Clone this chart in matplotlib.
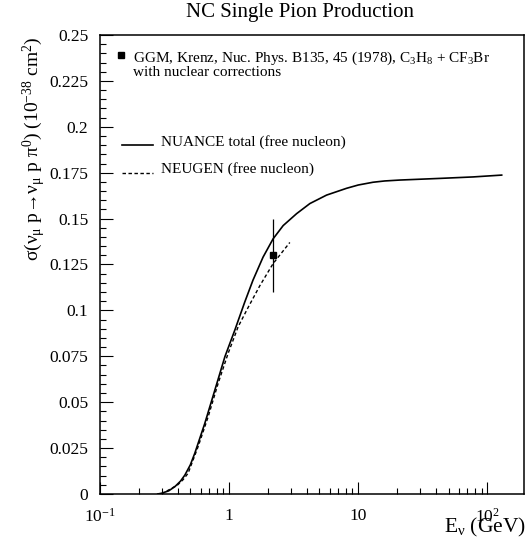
#!/usr/bin/env python3
"""
NC single pion production cross section vs neutrino energy (ROOT-style plot).
"""

import matplotlib
matplotlib.use("Agg")
import matplotlib.pyplot as plt
from matplotlib.ticker import FixedLocator, LogLocator, NullFormatter


# NUANCE total (free nucleon), solid
nuance_e = [0.28, 0.30, 0.34, 0.38, 0.42, 0.454, 0.50, 0.542, 0.648, 0.775, 0.927,
            1.107, 1.21, 1.32, 1.53, 1.83, 2.19, 2.62, 3.33, 4.22, 5.68, 8.11,
            10.0, 13.0, 16.0, 21.0, 42.9, 77.6, 129.0]
nuance_xs = [0.0, 0.0004, 0.0017, 0.004, 0.007, 0.0103, 0.0158, 0.0222, 0.0385, 0.0566, 0.0748,
             0.0893, 0.097, 0.1045, 0.1165, 0.129, 0.139, 0.1462, 0.1527, 0.1582, 0.1628, 0.1665,
             0.1683, 0.1698, 0.1705, 0.171, 0.1719, 0.1727, 0.1737]

# NEUGEN (free nucleon), dashed
neugen_e = [0.30, 0.40, 0.44, 0.481, 0.575, 0.688, 0.822, 0.982, 1.174, 1.40, 1.73, 2.19, 2.95]
neugen_xs = [0.0, 0.005, 0.0078, 0.0113, 0.0258, 0.0421, 0.0603, 0.0766, 0.0911, 0.1015, 0.1135,
             0.1255, 0.137]

# GGM data point
ggm_e = [2.19]
ggm_xs = [0.13]
ggm_err = [0.02]

y_ticks = [0, 0.025, 0.05, 0.075, 0.1, 0.125, 0.15, 0.175, 0.2, 0.225, 0.25]
y_tick_labels = ["0", "0.025", "0.05", "0.075", "0.1", "0.125", "0.15", "0.175", "0.2", "0.225", "0.25"]
x_ticks = [0.1, 1, 10, 100]
x_tick_labels = ["10$^{-1}$", "1", "10", "10$^{2}$"]


def main():
    plt.rcParams["font.family"] = ["Liberation Serif", "DejaVu Serif"]
    plt.rcParams["mathtext.fontset"] = "custom"
    plt.rcParams["mathtext.rm"] = "Liberation Serif"
    plt.rcParams["mathtext.it"] = "Liberation Serif"
    plt.rcParams["mathtext.bf"] = "Liberation Serif:bold"

    fig = plt.figure(figsize=(5.27, 5.42), dpi=100)
    ax = fig.add_axes([0.1898, 0.0886, 0.8045, 0.8468])

    ax.plot(nuance_e, nuance_xs, color="black", lw=1.2)
    ax.plot(neugen_e, neugen_xs, color="black", lw=1.0, dashes=(2.5, 1.8))
    ax.errorbar(ggm_e, ggm_xs, yerr=ggm_err, fmt="s", color="black", ms=5,
                elinewidth=0.9, capsize=0)

    ax.set_xscale("log")
    ax.set_xlim(0.1, 192)
    ax.set_ylim(0, 0.25)

    ax.xaxis.set_major_locator(FixedLocator(x_ticks))
    ax.set_xticklabels(x_tick_labels)
    ax.xaxis.set_minor_locator(LogLocator(base=10, subs=range(2, 10)))
    ax.xaxis.set_minor_formatter(NullFormatter())
    ax.set_yticks(y_ticks)
    ax.set_yticklabels(y_tick_labels)
    ax.yaxis.set_minor_locator(FixedLocator([i * 0.005 for i in range(51)]))

    ax.tick_params(which="both", direction="in", top=False, right=False,
                   labelsize=12.5, width=0.8)
    ax.tick_params(which="major", length=9)
    ax.tick_params(which="minor", length=4.5)
    ax.tick_params(axis="x", which="major", pad=10)
    ax.tick_params(axis="y", which="major", pad=8.5)
    for s in ax.spines.values():
        s.set_linewidth(1.1)

    # legend built by hand, ROOT-like
    ax.plot([0.145], [0.2392], marker="s", color="black", ms=4.5)
    ax.text(0.180, 0.2375, "GGM, Krenz, Nuc. Phys. B135, 45 (1978), C$_3$H$_8$ + CF$_3$Br",
            fontsize=11, va="center")
    ax.text(0.180, 0.2298, "with nuclear corrections", fontsize=11, va="center")
    ax.plot([0.148, 0.257], [0.190, 0.190], color="black", lw=1.2)
    ax.text(0.297, 0.1917, "NUANCE total (free nucleon)", fontsize=11, va="center")
    ax.plot([0.148, 0.257], [0.1748, 0.1748], color="black", lw=1.0, dashes=(2.5, 1.8))
    ax.text(0.297, 0.177, "NEUGEN (free nucleon)", fontsize=11, va="center")

    fig.text(0.569, 0.977, "NC Single Pion Production", fontsize=15, ha="center", va="center")
    fig.text(0.998, 0.018, "E$_\\nu$ (GeV)", fontsize=15.5, ha="right", va="baseline")
    fig.text(0.066, 0.933, "σ(ν$_\\mu$ p→ν$_\\mu$ p π$^0$) (10$^{-38}$ cm$^2$)",
             fontsize=14, rotation=90, ha="center", va="top")

    fig.savefig("out.png", dpi=100)
    plt.close(fig)


if __name__ == "__main__":
    main()
